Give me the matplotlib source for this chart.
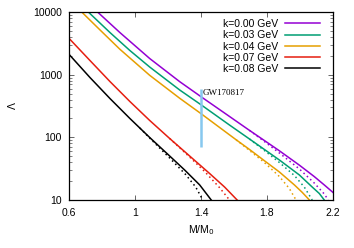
import matplotlib
matplotlib.use("Agg")
import matplotlib.pyplot as plt
from matplotlib.ticker import LogLocator, NullFormatter, FixedLocator

# data (M/M0, Lambda)
labels = ["k=0.00 GeV", "k=0.03 GeV", "k=0.04 GeV", "k=0.07 GeV", "k=0.08 GeV"]
colors = ["#9400d3", "#009e73", "#e69f00", "#e51e10", "black"]

m_k000 = [0.773, 0.908, 1.089, 1.271, 1.398, 1.573, 1.694, 1.784, 1.875, 1.996, 2.086, 2.147, 2.200]
lam_k000 = [10000, 4710, 1811, 773, 449, 215, 129, 89, 61, 36, 23.7, 17.4, 13.2]
m_k000_dot = [1.694, 1.784, 1.875, 1.996, 2.086, 2.147, 2.171]
lam_k000_dot = [129, 85.9, 56.2, 31.3, 18.7, 12.5, 10]

m_k003 = [0.717, 0.848, 0.969, 1.089, 1.271, 1.398, 1.573, 1.694, 1.875, 1.996, 2.074, 2.117, 2.147]
lam_k003 = [10000, 4710, 2430, 1325, 569, 334, 157, 94, 43.5, 25.1, 16.1, 12.7, 10]
m_k003_dot = [1.694, 1.784, 1.875, 1.966, 2.026, 2.074]
lam_k003_dot = [94, 61.7, 39.7, 24.6, 16.1, 10]

m_k004 = [0.677, 0.787, 0.908, 1.089, 1.271, 1.398, 1.613, 1.694, 1.784, 1.875, 1.966, 2.014, 2.057]
lam_k004 = [10000, 5200, 2550, 977, 420, 241, 91.4, 64, 42.4, 28, 17.4, 13.2, 10]
m_k004_dot = [1.613, 1.694, 1.784, 1.875, 1.935, 1.976]
lam_k004_dot = [91.4, 61.7, 39.7, 23.7, 15.3, 10]

m_k007 = [0.6, 0.727, 0.848, 0.969, 1.089, 1.210, 1.331, 1.452, 1.543, 1.619]
lam_k007 = [3800, 1683, 778, 373, 186, 95.9, 50.4, 26.5, 16.1, 10]
m_k007_dot = [1.210, 1.331, 1.422, 1.512, 1.573]
lam_k007_dot = [95.9, 48.6, 28.5, 15.8, 10]

m_k008 = [0.6, 0.727, 0.848, 0.969, 1.089, 1.210, 1.301, 1.392, 1.462]
lam_k008 = [2113, 901, 417, 200, 99.4, 50.4, 30.1, 17.4, 10]
m_k008_dot = [1.029, 1.089, 1.210, 1.307, 1.368, 1.411]
lam_k008_dot = [141, 97.5, 46.8, 25.5, 16.1, 10]

gw_m = 1.4
gw_lam = [70, 580]
xticks = [0.6, 1, 1.4, 1.8, 2.2]

solid = [(m_k000, lam_k000), (m_k003, lam_k003), (m_k004, lam_k004), (m_k007, lam_k007), (m_k008, lam_k008)]
dotted = [(m_k000_dot, lam_k000_dot), (m_k003_dot, lam_k003_dot), (m_k004_dot, lam_k004_dot),
          (m_k007_dot, lam_k007_dot), (m_k008_dot, lam_k008_dot)]

plt.rcParams['font.family'] = ['Liberation Sans', 'DejaVu Sans']
fig = plt.figure(figsize=(3.54, 2.48), dpi=100)
ax = fig.add_axes([69/354, 1-200/248, 264/354, 188/248])

for (m, lam), c, lab in zip(solid, colors, labels):
    ax.plot(m, lam, color=c, lw=1.1, label=lab)
for (m, lam), c in zip(dotted, colors):
    ax.plot(m, lam, color=c, lw=1.1, linestyle=(0, (1, 2)))

ax.plot([gw_m, gw_m], gw_lam, color="#87c8ef", lw=1.8, solid_capstyle='butt')
ax.text(gw_m + 0.012, 510, "GW170817", family=['Liberation Serif'], fontsize=6.5, va='center', ha='left')

ax.set_yscale('log')
ax.set_xlim(0.6, 2.2)
ax.set_ylim(10, 10000)
ax.xaxis.set_major_locator(FixedLocator(xticks))
ax.set_xticklabels(["0.6", "1", "1.4", "1.8", "2.2"])
ax.yaxis.set_minor_locator(LogLocator(base=10, subs=range(2, 10)))
ax.yaxis.set_minor_formatter(NullFormatter())
ax.set_yticks([10, 100, 1000, 10000])
ax.set_yticklabels(["10", "100", "1000", "10000"])

ax.tick_params(which='both', direction='in', top=True, right=True, labelsize=7.5, color='0.3')
ax.tick_params(which='major', length=3.5, width=0.6)
ax.tick_params(which='minor', length=2, width=0.5)
ax.tick_params(axis='x', pad=5.5)
ax.tick_params(axis='y', pad=5)
for s in ax.spines.values():
    s.set_linewidth(0.9)

ax.set_xlabel("M/M$_0$", fontsize=7.5, labelpad=4)
ax.set_ylabel("Λ", fontsize=7.5, labelpad=11)

ax.legend(loc='upper right', bbox_to_anchor=(0.951, 0.962), frameon=False, markerfirst=False,
          fontsize=7.5, handlelength=3.4, handletextpad=0.6, labelspacing=0.12,
          borderpad=0, borderaxespad=0)

fig.savefig("out.png", dpi=100)
